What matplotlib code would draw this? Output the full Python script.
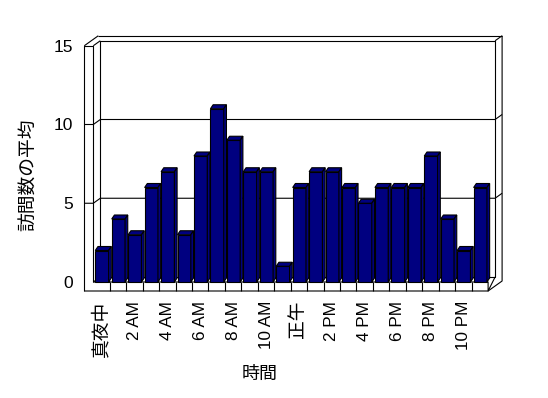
import numpy as np
import matplotlib
matplotlib.use('Agg')
import matplotlib.pyplot as plt
from matplotlib.patches import Polygon

# hourly averages, midnight .. 11 PM
hours = np.arange(24)
visits = [2, 4, 3, 6, 7, 3, 8, 11, 9, 7, 7, 1,
          6, 7, 7, 6, 5, 6, 6, 6, 8, 4, 2, 6]
tick_labels = ['真夜中', '2 AM', '4 AM', '6 AM', '8 AM', '10 AM',
               '正午', '2 PM', '4 PM', '6 PM', '8 PM', '10 PM']
y_ticks = [0, 5, 10, 15]

plt.rcParams['font.family'] = ['Liberation Sans', 'Noto Sans CJK JP', 'DejaVu Sans']

W, H = 548, 398
fig = plt.figure(figsize=(W / 100, H / 100), dpi=100)
fig.patch.set_facecolor('white')

# front plane of the 3d box in pixels
x0_px, cat_px = 93.3, 16.45
y0_px, val_px = 282.0, 15.75
ax = fig.add_axes([x0_px / W, (H - y0_px) / H,
                   24 * cat_px / W, 15 * val_px / H])
ax.set_xlim(0, 24)
ax.set_ylim(0, 15)
for s in ax.spines.values():
    s.set_visible(False)
ax.set_facecolor('none')

# depth offsets (data units)
dx, dy = 7 / cat_px, 5 / val_px        # half depth (back wall front face)
tw, tf = 9 / cat_px, 9 / val_px        # wall / floor thickness
top = 15
lw = 0.8
kw = dict(color='black', lw=lw, clip_on=False, zorder=1, solid_capstyle='butt')

# back wall + gridlines
ax.plot([dx, 24 + dx, 24 + dx, dx, dx], [dy, dy, top + dy, top + dy, dy], **kw)
ax.plot([-tw + 2 * dx, 24 + 2 * dx], [top + 2 * dy] * 2, **kw)
ax.plot([24 + dx, 24 + 2 * dx], [top + dy, top + 2 * dy], **kw)
for v in [5, 10]:
    ax.plot([-tw, 0, dx, 24 + dx, 24 + 2 * dx],
            [v, v, v + dy, v + dy, v + 2 * dy], **kw)

# left wall
ax.plot([-tw, -tw, 0, 0], [-tf, top, top, 0], **kw)
ax.plot([-tw, -tw + 2 * dx], [top, top + 2 * dy], **kw)
ax.plot([0, dx], [top, top + dy], **kw)
ax.plot([0, dx], [0, dy], **kw)

# floor
ax.plot([-tw, 24, 24 + 2 * dx, 24 + 2 * dx], [-tf, -tf, -tf + 2 * dy, top + 2 * dy], **kw)
ax.plot([0, 24, 24, 24 + dx], [0, 0, -tf, dy], **kw)
for c in range(1, 24):
    ax.plot([c, c], [-tf, 0], **kw)

# bars
bx0, bx1 = 0.12, 0.93
bdx, bdy = 2.7 / cat_px, 4 / val_px
navy = '#000080'
for c, v in zip(hours, visits):
    l, r = c + bx0, c + bx1
    faces = [
        [(l, 0), (r, 0), (r, v), (l, v)],
        [(l, v), (r, v), (r + bdx, v + bdy), (l + bdx, v + bdy)],
        [(r, 0), (r + bdx, bdy), (r + bdx, v + bdy), (r, v)],
    ]
    for f in faces:
        ax.add_patch(Polygon(f, closed=True, facecolor=navy, edgecolor='black',
                             lw=lw, clip_on=False, zorder=3))

ax.set_xticks(hours[::2] + 0.5)
ax.set_xticklabels(tick_labels, rotation=90)
ax.set_yticks(y_ticks)
ax.set_yticklabels([str(t) for t in y_ticks])
ax.tick_params(axis='x', length=0, pad=13.5, labelsize=12.3)
ax.tick_params(axis='y', length=0, pad=14.5, labelsize=12.5)
for t in ax.get_xticklabels():
    if not t.get_text()[0].isdigit():
        t.set_fontsize(13.5)

ax.set_ylabel('訪問数の平均', fontsize=13.5)
ax.yaxis.set_label_coords((38 - x0_px) / (24 * cat_px), (H - 175 - (H - y0_px)) / (15 * val_px))
ax.set_xlabel('時間', fontsize=13)
ax.xaxis.set_label_coords((260 - x0_px) / (24 * cat_px), -(366 - y0_px) / (15 * val_px))

fig.savefig('out.png', dpi=100, facecolor='white')
